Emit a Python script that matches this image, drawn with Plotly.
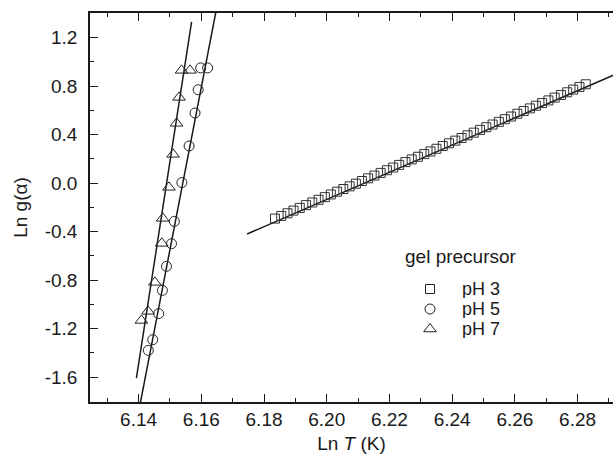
import plotly.graph_objects as go

# ---------------- data ----------------
ph3_x = [6.1835, 6.1855, 6.1875, 6.1894, 6.1914, 6.1934, 6.1954, 6.1974, 6.1994, 6.2013,
         6.2033, 6.2053, 6.2073, 6.2093, 6.2112, 6.2132, 6.2152, 6.2172, 6.2192, 6.2212,
         6.2231, 6.2251, 6.2271, 6.2291, 6.2311, 6.2331, 6.2350, 6.2370, 6.2390, 6.2410,
         6.2430, 6.2449, 6.2469, 6.2489, 6.2509, 6.2529, 6.2549, 6.2568, 6.2588, 6.2608,
         6.2628, 6.2648, 6.2667, 6.2687, 6.2707, 6.2727, 6.2747, 6.2767, 6.2786, 6.2806,
         6.2826]
ph3_y = [-0.293, -0.271, -0.249, -0.227, -0.205, -0.182, -0.160, -0.138, -0.116, -0.094,
         -0.071, -0.049, -0.027, -0.005, 0.017, 0.039, 0.062, 0.084, 0.106, 0.128,
         0.150, 0.173, 0.195, 0.217, 0.239, 0.261, 0.283, 0.306, 0.328, 0.350,
         0.372, 0.394, 0.416, 0.439, 0.461, 0.483, 0.505, 0.527, 0.549, 0.572,
         0.594, 0.616, 0.638, 0.660, 0.682, 0.705, 0.727, 0.749, 0.771, 0.793,
         0.815]

ph5_x = [6.1598, 6.1620, 6.1590, 6.1580, 6.1561, 6.1538, 6.1514, 6.1505, 6.1489, 6.1476,
         6.1464, 6.1445, 6.1431]
ph5_y = [0.950, 0.950, 0.770, 0.578, 0.306, 0.004, -0.316, -0.500, -0.687, -0.885,
         -1.077, -1.292, -1.380]

ph7_x = [6.1537, 6.1564, 6.1529, 6.1521, 6.1510, 6.1497, 6.1477, 6.1474, 6.1452, 6.1430,
         6.1409]
ph7_y = [0.930, 0.930, 0.707, 0.493, 0.237, -0.035, -0.291, -0.497, -0.819, -1.058,
         -1.133]

# linear fits drawn in the reference (end points)
fit3_x = [6.1746, 6.2950]
fit3_y = [-0.420, 0.930]
fit5_x = [6.1400, 6.1660]
fit5_y = [-1.888, 1.593]
fit7_x = [6.1393, 6.1569]
fit7_y = [-1.609, 1.329]

x_tickvals = [6.14, 6.16, 6.18, 6.20, 6.22, 6.24, 6.26, 6.28]
x_ticktext = ["6.14", "6.16", "6.18", "6.20", "6.22", "6.24", "6.26", "6.28"]
y_tickvals = [-1.6, -1.2, -0.8, -0.4, 0.0, 0.4, 0.8, 1.2]
y_ticktext = ["-1.6", "-1.2", "-0.8", "-0.4", "0.0", "0.4", "0.8", "1.2"]

legend_title = "gel precursor"
legend_labels = ["pH 3", "pH 5", "pH 7"]

# ---------------- figure ----------------
FONT = "Liberation Sans, Arial, sans-serif"
FS = 19
INK = "#1a1a1a"
W, H = 613, 459
L, T, B, R = 90, 13, 402, 613

fig = go.Figure()

for fx, fy in [(fit3_x, fit3_y), (fit5_x, fit5_y), (fit7_x, fit7_y)]:
    fig.add_trace(go.Scatter(x=fx, y=fy, mode="lines", showlegend=False,
                             line=dict(color=INK, width=1.5), hoverinfo="skip"))

fig.add_trace(go.Scatter(x=ph3_x, y=ph3_y, mode="markers", name=legend_labels[0], showlegend=False,
                         marker=dict(symbol="square-open", size=9, color="#333333",
                                     line=dict(width=1, color="#333333"))))
fig.add_trace(go.Scatter(x=ph5_x, y=ph5_y, mode="markers", name=legend_labels[1], showlegend=False,
                         marker=dict(symbol="circle-open", size=10, color="#222222",
                                     line=dict(width=1, color="#222222"))))
fig.add_trace(go.Scatter(x=ph7_x, y=ph7_y, mode="markers", name=legend_labels[2], showlegend=False,
                         marker=dict(symbol="triangle-up-open", size=11, color="#222222",
                                     line=dict(width=1, color="#222222"))))

# manual legend on an overlay axis in pixel units
leg_sym = ["square-open", "circle-open", "triangle-up-open"]
leg_size = [9, 10, 11]
leg_y = [289, 309, 329]
for s, sz, yy in zip(leg_sym, leg_size, leg_y):
    fig.add_trace(go.Scatter(x=[430], y=[yy], xaxis="x2", yaxis="y2", mode="markers",
                             showlegend=False, hoverinfo="skip",
                             marker=dict(symbol=s, size=sz, color="#222222",
                                         line=dict(width=1, color="#222222"))))
annots = [dict(x=403, y=256, xref="x2", yref="y2", text=legend_title, showarrow=False,
               xanchor="left", yanchor="middle", font=dict(family=FONT, size=FS, color=INK))]
for lab, yy in zip(legend_labels, leg_y):
    annots.append(dict(x=460, y=yy, xref="x2", yref="y2", text=lab, showarrow=False,
                       xanchor="left", yanchor="middle", height=18, valign="middle",
                       font=dict(family=FONT, size=18, color=INK)))

axis_common = dict(showgrid=False, zeroline=False, showline=True, linecolor=INK, linewidth=1.5,
                   ticks="inside", tickcolor=INK, tickwidth=1.2,
                   tickfont=dict(family=FONT, size=FS, color=INK))

fig.update_layout(
    width=W, height=H,
    margin=dict(l=L, r=W - R, t=T, b=H - B, pad=0),
    paper_bgcolor="white", plot_bgcolor="white",
    font=dict(family=FONT, size=FS, color=INK),
    xaxis=dict(**axis_common, range=[6.1245, 6.2913], tickvals=x_tickvals, ticktext=x_ticktext,
               ticklen=8, mirror="ticks", ticklabelstandoff=-1,
               minor=dict(ticks="inside", dtick=0.01, tick0=6.14, ticklen=4.5, tickcolor=INK,
                          tickwidth=1.2, showgrid=False),
               title=dict(text="Ln <i>T</i> (K)", font=dict(family=FONT, size=FS, color=INK),
                          standoff=8)),
    yaxis=dict(**axis_common, range=[-1.806, 1.403], tickvals=y_tickvals, ticktext=y_ticktext,
               ticklen=8, mirror=False, ticklabelstandoff=7,
               minor=dict(ticks="inside", dtick=0.2, tick0=0, ticklen=4.5, tickcolor=INK,
                          tickwidth=1.2, showgrid=False),
               title=dict(text="Ln g(α)", font=dict(family=FONT, size=FS, color=INK),
                          standoff=12)),
    xaxis2=dict(overlaying="x", range=[L, R], visible=False, fixedrange=True),
    yaxis2=dict(overlaying="y", range=[B, T], visible=False, fixedrange=True),
    annotations=annots,
    showlegend=False,
)

fig.write_html("out.html")
